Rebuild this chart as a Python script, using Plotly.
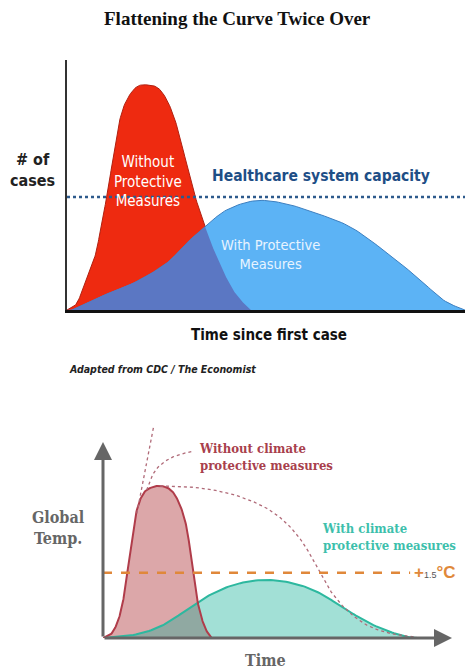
import numpy as np
import plotly.graph_objects as go

W, H = 473, 672
OFF = 8                      # browser body margin
FW, FH = W - OFF, H - OFF    # figure size so that it fills the window

# ---------------- data: top chart (COVID curves) ----------------
red_x = [0, 2.4, 4.4, 6.0, 7.3, 8.5, 9.8, 11.4, 13.0, 14.7, 17.2, 20.0, 22.5, 24.6, 26.6, 28.6, 31.1, 34.0, 36.9, 40.9, 45.1]
red_y = [0, 2.7, 10.7, 17.3, 24, 34.7, 45.3, 61.3, 76, 84, 89.3, 90, 88.7, 84, 76, 64, 48, 33.3, 21.3, 8, 0]
blue_x = [1.2, 8.1, 16.3, 24.5, 29.4, 34.0, 39.3, 46.3, 53.3, 61.4, 69.7, 77.9, 86.1, 92.7, 98.0]
blue_y = [0, 5.3, 10.7, 18.7, 26.7, 33.3, 40, 43.7, 42.7, 38.7, 33.3, 24, 13.3, 4, 0]
capacity = 45.2

# ---------------- data: bottom chart (climate curves) ----------------
cred_x = [0.1, 2.5, 4.4, 5.8, 6.8, 8.3, 9.7, 11.6, 14.0, 16.3, 18.7, 20.6, 22.6, 24.1, 25.2, 26.1, 27.4, 29.1, 30.8, 31.7]
cred_y = [0, 2.4, 9.2, 19.4, 31.3, 50, 65.3, 73.8, 76.9, 77.6, 76.4, 73, 65.3, 55.1, 41.5, 29.6, 16, 5.8, 0.7, 0]
teal_x = [0.1, 8.7, 16.3, 24.0, 29.7, 37.3, 45.9, 54.5, 62.2, 69.8, 77.5, 85.1, 89.9]
teal_y = [0, 1.5, 5.8, 14.3, 21.1, 27, 29.6, 27.9, 22.8, 14.3, 6.6, 1.5, 0]
steep_x = [9.7, 14.6]
steep_y = [63.6, 108.7]
branch_x = [12.5, 13.95, 15.9, 19.2, 22.6, 25.4]
branch_y = [75.5, 82.3, 87.4, 91.7, 93.9, 95.1]
tail_x = [16.3, 24.0, 31.6, 39.3, 46.9, 52.6, 57.4, 61.2, 65.0, 69.8, 75.6, 82.2, 89.9]
tail_y = [77.6, 77.2, 75.5, 72.1, 66.2, 58.5, 48.3, 36.4, 24.5, 14.3, 6.6, 2.4, 0.4]
limit_15 = 33.3
limit_end = 88


def smooth(xs, ys, n=12):
    """Catmull-Rom densification of a polyline (drawing helper only)."""
    p = np.column_stack([xs, ys]).astype(float)
    p = np.vstack([p[0], p, p[-1]])
    out = []
    for i in range(1, len(p) - 2):
        p0, p1, p2, p3 = p[i - 1], p[i], p[i + 1], p[i + 2]
        for t in np.linspace(0, 1, n, endpoint=False):
            t2, t3 = t * t, t * t * t
            out.append(0.5 * ((2 * p1) + (-p0 + p2) * t + (2 * p0 - 5 * p1 + 4 * p2 - p3) * t2
                              + (-p0 + 3 * p1 - 3 * p2 + p3) * t3))
    out.append(p[-2])
    out = np.array(out)
    return out[:, 0], np.clip(out[:, 1], 0, None)


def overlap(ax_, ay_, bx_, by_):
    g = np.linspace(0, 100, 1200)
    a = np.interp(g, ax_, ay_, left=0, right=0)
    b = np.interp(g, bx_, by_, left=0, right=0)
    return g, np.minimum(a, b)


def px2x(px):
    return (px - OFF) / FW


def py2y(py):
    return 1 - (py - OFF) / FH


fig = go.Figure()

# ---- top chart traces ----
rx, ry = smooth(red_x, red_y)
bx, by = smooth(blue_x, blue_y)
ox, oy = overlap(rx, ry, bx, by)
fig.add_trace(go.Scatter(x=rx, y=ry, fill="tozeroy", fillcolor="#ee2a10", mode="lines",
                         line=dict(color="#b02010", width=1), xaxis="x", yaxis="y"))
fig.add_trace(go.Scatter(x=bx, y=by, fill="tozeroy", fillcolor="#5cb3f5", mode="lines",
                         line=dict(color="#3c7fc0", width=1), xaxis="x", yaxis="y"))
fig.add_trace(go.Scatter(x=ox, y=oy, fill="tozeroy", fillcolor="#5b77c3", mode="lines",
                         line=dict(color="rgba(0,0,0,0)", width=0), xaxis="x", yaxis="y"))
fig.add_trace(go.Scatter(x=[0, 100], y=[capacity, capacity], mode="lines",
                         line=dict(color="#2d5a8c", width=2.5, dash="dot"), xaxis="x", yaxis="y"))

# ---- bottom chart traces ----
crx, cry = smooth(cred_x, cred_y)
tx, ty = smooth(teal_x, teal_y)
cox, coy = overlap(crx, cry, tx, ty)
fig.add_trace(go.Scatter(x=crx, y=cry, fill="tozeroy", fillcolor="#dca7a9", mode="lines",
                         line=dict(color="rgba(0,0,0,0)", width=0), xaxis="x2", yaxis="y2"))
fig.add_trace(go.Scatter(x=tx, y=ty, fill="tozeroy", fillcolor="#a2e0d6", mode="lines",
                         line=dict(color="rgba(0,0,0,0)", width=0), xaxis="x2", yaxis="y2"))
fig.add_trace(go.Scatter(x=cox, y=coy, fill="tozeroy", fillcolor="#90a9a2", mode="lines",
                         line=dict(color="rgba(0,0,0,0)", width=0), xaxis="x2", yaxis="y2"))
fig.add_trace(go.Scatter(x=tx, y=ty, mode="lines", line=dict(color="#2db89f", width=2),
                         xaxis="x2", yaxis="y2"))
fig.add_trace(go.Scatter(x=crx, y=cry, mode="lines", line=dict(color="#b03c4a", width=2),
                         xaxis="x2", yaxis="y2"))
for dx, dy in ((steep_x, steep_y), smooth(branch_x, branch_y), smooth(tail_x, tail_y)):
    fig.add_trace(go.Scatter(x=dx, y=dy, mode="lines", line=dict(color="#b06a78", width=1.3, dash="dot"),
                             xaxis="x2", yaxis="y2"))
fig.add_trace(go.Scatter(x=[0, limit_end], y=[limit_15, limit_15], mode="lines",
                         line=dict(color="#e0883a", width=2.5, dash="dash"), xaxis="x2", yaxis="y2"))

# ---- layout / axes ----
ax_off = dict(showgrid=False, zeroline=False, showticklabels=False, ticks="", fixedrange=True)
y2_top_px = 638 - 111.2 * 1.96
fig.update_layout(
    width=FW, height=FH, margin=dict(l=0, r=0, t=0, b=0),
    paper_bgcolor="white", plot_bgcolor="rgba(0,0,0,0)", showlegend=False,
    xaxis=dict(domain=[px2x(67), 1], range=[0, 100], showline=True, linecolor="#111", linewidth=2.5, **ax_off),
    yaxis=dict(domain=[py2y(310), py2y(60)], range=[0, 100], showline=True, linecolor="#333",
               linewidth=2, **ax_off),
    xaxis2=dict(domain=[px2x(103), px2x(452)], range=[0, 100], anchor="y2", showline=False, **ax_off),
    yaxis2=dict(domain=[py2y(638), py2y(y2_top_px)], range=[0, 111.2], anchor="x2",
                showline=False, **ax_off),
)

narrow = "DejaVu Sans Condensed, Liberation Sans Narrow, Roboto, sans-serif"
slab = "DejaVu Serif Condensed, DejaVu Serif, serif"
ann = []


def txt(x, y, text, size, color, family, xref="paper", yref="paper", xanchor="center", align="center"):
    ann.append(dict(x=x, y=y, xref=xref, yref=yref, text=text, showarrow=False, xanchor=xanchor,
                    yanchor="middle", align=align, font=dict(size=size, color=color, family=family)))


txt(px2x(237), py2y(19), "<b>Flattening the Curve Twice Over</b>", 19, "#111",
    "Liberation Serif, Times New Roman, serif")
# top chart labels
txt(px2x(32), py2y(170), "<b># of<br>cases</b>", 16, "#222", narrow)
txt(px2x(148), py2y(182), "Without<br>Protective<br>Measures", 15, "white", narrow)
txt(px2x(270), py2y(255), "With Protective<br>Measures", 14.5, "#e8f4ff", narrow)
txt(px2x(210), py2y(176), "<b>Healthcare system capacity</b>", 15.5, "#1e4e86", narrow, xanchor="left")
txt(px2x(269), py2y(335), "<b>Time since first case</b>", 15, "#111", narrow)
txt(px2x(67), py2y(369), "<b><i>Adapted from CDC / The Economist</i></b>", 10.5, "#222", narrow, xanchor="left")
# bottom chart labels
txt(px2x(197), py2y(457), "<b>Without climate<br>protective measures</b>", 13, "#a8404c", slab,
    xanchor="left", align="left")
txt(px2x(320), py2y(537), "<b>With climate<br>protective measures</b>", 13, "#3dbfac", slab,
    xanchor="left", align="left")
txt(px2x(412), limit_15, "<b>+</b><span style='font-size:9px;color:#555'>1.5</span><b>°C</b>", 17,
    "#e0883a", "Liberation Sans, Arial, sans-serif", "paper", "y2", xanchor="left")
txt(px2x(58), py2y(528), "<b>Global<br>Temp.</b>", 16, "#666", slab)
txt(px2x(265), py2y(660), "<b>Time</b>", 16, "#666", slab)

# bottom axes with arrowheads
ann.append(dict(x=100, y=0, ax=0, ay=0, xref="x2", yref="y2", axref="x2", ayref="y2", text="",
                showarrow=True, arrowhead=2, arrowsize=1.2, arrowwidth=3, arrowcolor="#666"))
ann.append(dict(x=0, y=100, ax=0, ay=0, xref="x2", yref="y2", axref="x2", ayref="y2", text="",
                showarrow=True, arrowhead=2, arrowsize=1.2, arrowwidth=3, arrowcolor="#666"))
fig.update_layout(annotations=ann)

fig.write_html("out.html")
